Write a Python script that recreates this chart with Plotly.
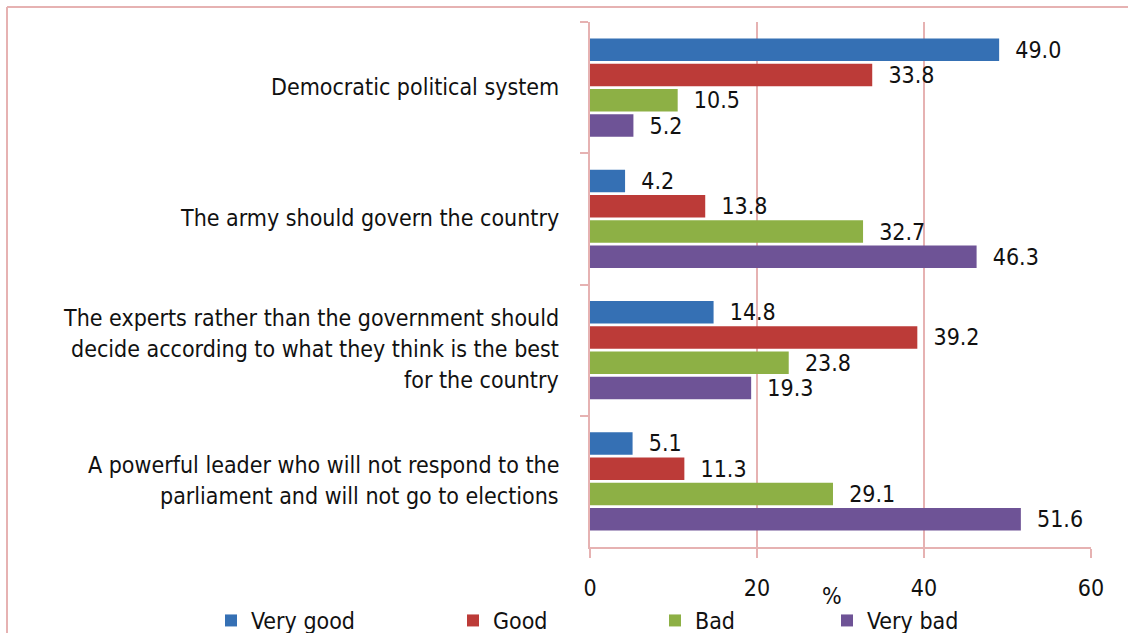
import plotly.graph_objects as go

# Survey statements (top to bottom) and shares of answers, in %
categories = [
    "Democratic political system",
    "The army should govern the country",
    "The experts rather than the government should<br>decide according to what they think is the best<br>for the country",
    "A powerful leader who will not respond to the<br>parliament and will not go to elections",
]
series_names = ["Very good", "Good", "Bad", "Very bad"]
very_good = [49.0, 4.2, 14.8, 5.1]
good = [33.8, 13.8, 39.2, 11.3]
bad = [10.5, 32.7, 23.8, 29.1]
very_bad = [5.2, 46.3, 19.3, 51.6]
x_ticks = [0, 20, 40, 60]

values = [very_good, good, bad, very_bad]
colors = ["#3570B4", "#BC3B38", "#8DB045", "#6E5396"]
pink = "#E6B2B2"
FONT = "Liberation Sans Narrow, DejaVu Sans Condensed, sans-serif"
FS = 23
TXT = "#111111"

# plot area in pixels: x 590..1091, y 22..547
W, H = 501, 525
legend_px = [211, 453, 655, 827]
legend_keys = ["legend", "legend2", "legend3", "legend4"]

fig = go.Figure()
for name, vals, col, lk in zip(series_names, values, colors, legend_keys):
    fig.add_trace(go.Bar(
        name=name,
        y=categories,
        x=vals,
        orientation="h",
        legend=lk,
        marker=dict(color=col, line=dict(width=0)),
        text=["\u00a0\u00a0" + f"{v:.1f}" for v in vals],
        textposition="outside",
        constraintext="none",
        textfont=dict(family=FONT, size=FS, color=TXT),
        cliponaxis=False,
    ))

# Category labels, one annotation per text line to control line spacing
LINE = 31
annotations = []
for cat in categories:
    lines = cat.split("<br>")
    n = len(lines)
    for i, ln in enumerate(lines):
        annotations.append(dict(
            xref="paper", yref="y", x=-0.058, y=cat,
            text=ln, showarrow=False, xanchor="right", yanchor="middle",
            yshift=((n - 1) / 2 - i) * LINE + 1,
            font=dict(family=FONT, size=FS, color=TXT),
        ))
annotations.append(dict(
    xref="x", yref="paper", x=29, y=-0.094, text="%", showarrow=False,
    xanchor="center", yanchor="middle",
    font=dict(family=FONT, size=FS, color=TXT),
))

# Outer frame (left and top edges)
x_left = (7 - 590) / W
y_top = (547 - 7) / H
shapes = [
    dict(type="line", xref="paper", yref="paper", x0=x_left, x1=x_left,
         y0=y_top, y1=-0.3, line=dict(color=pink, width=2)),
    dict(type="line", xref="paper", yref="paper", x0=x_left, x1=1.2,
         y0=y_top, y1=y_top, line=dict(color=pink, width=2)),
]

legend_style = dict(
    orientation="h", xanchor="left", y=-0.14, yanchor="middle",
    font=dict(family=FONT, size=FS, color=TXT),
    itemwidth=30, bgcolor="rgba(0,0,0,0)",
)
legends = {lk: dict(legend_style, x=(px - 590) / W)
           for lk, px in zip(legend_keys, legend_px)}

fig.update_layout(
    width=1128, height=633,
    margin=dict(l=590, r=37, t=22, b=86, autoexpand=False),
    paper_bgcolor="white", plot_bgcolor="white",
    barmode="group", bargap=0.23, bargroupgap=0.11,
    font=dict(family=FONT, size=FS, color=TXT),
    showlegend=True,
    annotations=annotations,
    shapes=shapes,
    xaxis=dict(
        range=[0, 60], tickvals=x_ticks, ticktext=[str(t) for t in x_ticks],
        showgrid=True, gridcolor=pink, gridwidth=2,
        showline=True, linecolor=pink, linewidth=2,
        ticks="outside", ticklen=9, tickcolor=pink, tickwidth=2,
        ticklabelstandoff=10, zeroline=False,
        tickfont=dict(family=FONT, size=FS, color=TXT),
    ),
    yaxis=dict(
        autorange="reversed", showticklabels=False,
        showline=True, linecolor=pink, linewidth=2,
        ticks="outside", tickson="boundaries", ticklen=8,
        tickcolor=pink, tickwidth=2, showgrid=False,
    ),
    **legends,
)

fig.write_html("out.html")
